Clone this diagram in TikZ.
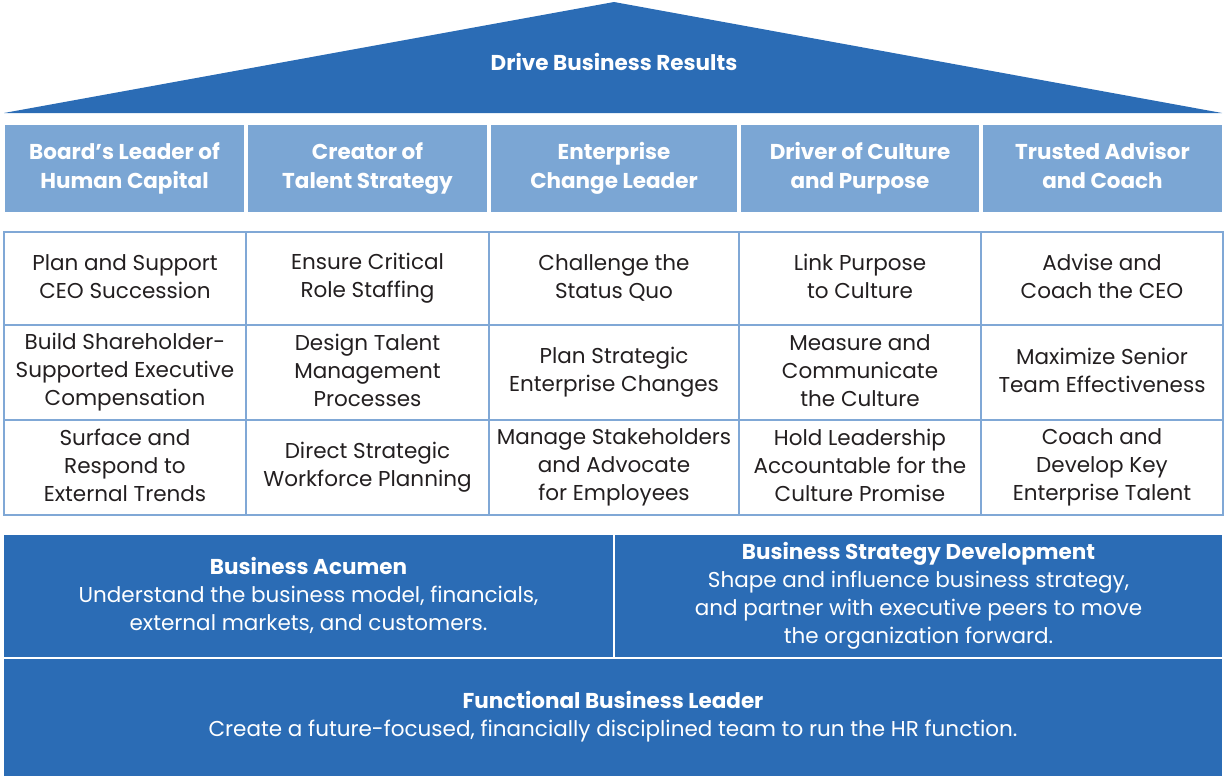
\documentclass[tikz,border=0pt]{standalone}
\usepackage{fontspec}
\setmainfont{Poppins}
\definecolor{darkblue}{RGB}{43,108,181}
\definecolor{headblue}{RGB}{123,166,212}
\definecolor{gridblue}{RGB}{128,168,214}
\definecolor{txt}{RGB}{35,31,32}
\newcommand{\cellstrut}{\rule[-3.5pt]{0pt}{28pt}}
\newcommand{\headstrut}{\rule[-6pt]{0pt}{29pt}}
\newcommand{\basestrut}{\rule[-4.5pt]{0pt}{28pt}}
\newcommand{\lowstrut}{\rule[-6.5pt]{0pt}{28pt}}
\tikzset{
  headbox/.style={execute at begin node=\headstrut, execute at end node=\headstrut, fill=headblue, inner sep=0pt, text=white, font=\fontsize{21.5}{29}\selectfont\bfseries, align=center},
  cellbox/.style={execute at begin node=\cellstrut, execute at end node=\cellstrut, draw=gridblue, line width=2.5pt, fill=white, inner sep=0pt, text=txt, font=\fontsize{21.5}{28}\selectfont, align=center},
  basebox/.style={execute at begin node=\basestrut, execute at end node=\basestrut, fill=darkblue, inner sep=0pt, text=white, font=\fontsize{21.5}{28}\selectfont, align=center},
  lowbox/.style={execute at begin node=\lowstrut, execute at end node=\lowstrut, fill=darkblue, inner sep=0pt, text=white, font=\fontsize{21.5}{28}\selectfont, align=center},
}
\begin{document}
\begin{tikzpicture}[x=1pt,y=-1pt]
\useasboundingbox (0,0) rectangle (1225,776);
% roof
\coordinate (rl) at (4,113);
\coordinate (rt) at (614,2);
\coordinate (rr) at (1222,113);
\fill[darkblue] (rl) -- (rt) -- (rr) -- cycle;
\node[text=white, font=\fontsize{21.5}{28}\selectfont\bfseries] (roof) at (614,62) {Drive Business Results};
% header row
\node[headbox, minimum width=239pt, minimum height=87pt] (h1) at (124.5,168.5) {Board’s Leader of\\Human Capital};
\node[headbox, minimum width=239pt, minimum height=87pt] (h2) at (367.5,168.5) {Creator of\\Talent Strategy};
\node[headbox, minimum width=246pt, minimum height=87pt] (h3) at (614,168.5) {Enterprise\\Change Leader};
\node[headbox, minimum width=238pt, minimum height=87pt] (h4) at (860,168.5) {Driver of Culture\\and Purpose};
\node[headbox, minimum width=239pt, minimum height=87pt] (h5) at (1102.5,168.5) {Trusted Advisor\\and Coach};
% grid
\node[cellbox, minimum width=242pt, minimum height=93pt] (c11) at (125,278.5) {Plan and Support\\CEO Succession};
\node[cellbox, minimum width=243pt, minimum height=93pt] (c12) at (367.5,278.5) {Ensure Critical\\Role Staffing};
\node[cellbox, minimum width=250pt, minimum height=93pt] (c13) at (614,278.5) {Challenge the\\Status Quo};
\node[cellbox, minimum width=242pt, minimum height=93pt] (c14) at (860,278.5) {Link Purpose\\to Culture};
\node[cellbox, minimum width=242pt, minimum height=93pt] (c15) at (1102,278.5) {Advise and\\Coach the CEO};
\node[cellbox, minimum width=242pt, minimum height=95pt] (c21) at (125,372.5) {Build Shareholder-\\Supported Executive\\Compensation};
\node[cellbox, minimum width=243pt, minimum height=95pt] (c22) at (367.5,372.5) {Design Talent\\Management\\Processes};
\node[cellbox, minimum width=250pt, minimum height=95pt] (c23) at (614,372.5) {Plan Strategic\\Enterprise Changes};
\node[cellbox, minimum width=242pt, minimum height=95pt] (c24) at (860,372.5) {Measure and\\Communicate\\the Culture};
\node[cellbox, minimum width=242pt, minimum height=95pt] (c25) at (1102,372.5) {Maximize Senior\\Team Effectiveness};
\node[cellbox, minimum width=242pt, minimum height=95pt] (c31) at (125,467.5) {Surface and\\Respond to\\External Trends};
\node[cellbox, minimum width=243pt, minimum height=95pt] (c32) at (367.5,467.5) {Direct Strategic\\Workforce Planning};
\node[cellbox, minimum width=250pt, minimum height=95pt] (c33) at (614,467.5) {Manage Stakeholders\\and Advocate\\for Employees};
\node[cellbox, minimum width=242pt, minimum height=95pt] (c34) at (860,467.5) {Hold Leadership\\Accountable for the\\Culture Promise};
\node[cellbox, minimum width=242pt, minimum height=95pt] (c35) at (1102,467.5) {Coach and\\Develop Key\\Enterprise Talent};
% base
\node[basebox, minimum width=609pt, minimum height=122pt] (b1) at (308.5,596) {\textbf{Business Acumen}\\Understand the business model, financials,\\external markets, and customers.};
\node[basebox, minimum width=607pt, minimum height=122pt] (b2) at (918.5,596) {\textbf{Business Strategy Development}\\Shape and influence business strategy,\\and partner with executive peers to move\\the organization forward.};
\node[lowbox, minimum width=1218pt, minimum height=117pt] (b3) at (613,717.5) {\textbf{Functional Business Leader}\\Create a future-focused, financially disciplined team to run the HR function.};
\end{tikzpicture}
\end{document}
